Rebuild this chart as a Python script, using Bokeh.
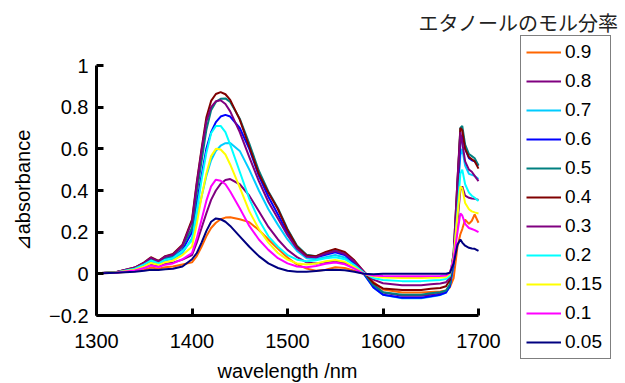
from bokeh.plotting import figure
from bokeh.models import Range1d, FixedTicker, Legend, LegendItem, Label
from bokeh.embed import file_html
from bokeh.resources import INLINE

# ---------------- data ----------------
wavelength = [1300, 1320, 1340, 1350, 1357, 1365, 1372, 1380, 1390,
              1400, 1405, 1410, 1415, 1420, 1425, 1430, 1435, 1440,
              1450, 1460, 1470, 1480, 1490, 1500, 1510, 1520, 1530, 1540, 1550, 1560, 1570, 1580, 1590, 1600,
              1620, 1640, 1650, 1660,
              1666, 1670, 1674, 1678, 1681, 1683, 1686, 1690, 1693, 1696, 1700]

mole_fractions = ["0.9", "0.8", "0.7", "0.6", "0.5", "0.4", "0.3", "0.2", "0.15", "0.1", "0.05"]

x_09 = [0.002, 0.005, 0.012, 0.02, 0.03, 0.025, 0.032, 0.035, 0.045,
        0.055, 0.085, 0.13, 0.18, 0.22, 0.245, 0.262, 0.27, 0.272,
        0.262, 0.248, 0.21, 0.165, 0.12, 0.078, 0.045, 0.025, 0.015, 0.02, 0.032, 0.028, 0.015, 0.0, -0.04, -0.075,
        -0.09, -0.09, -0.087, -0.085,
        -0.08, -0.065, -0.02, 0.13, 0.19, 0.215, 0.26, 0.24, 0.255, 0.285, 0.245]
x_08 = [0.003, 0.006, 0.018, 0.03, 0.044, 0.036, 0.048, 0.054, 0.068,
        0.09, 0.15, 0.22, 0.29, 0.355, 0.4, 0.432, 0.45, 0.455,
        0.43, 0.375, 0.3, 0.225, 0.165, 0.115, 0.08, 0.055, 0.05, 0.055, 0.06, 0.052, 0.03, 0.0, -0.05, -0.09,
        -0.105, -0.105, -0.1, -0.095,
        -0.085, -0.06, 0.04, 0.25, 0.4, 0.42, 0.375, 0.365, 0.362, 0.36, 0.355]
x_07 = [0.003, 0.007, 0.023, 0.04, 0.058, 0.046, 0.064, 0.072, 0.1,
        0.17, 0.27, 0.37, 0.47, 0.545, 0.59, 0.615, 0.627, 0.628,
        0.59, 0.5, 0.4, 0.31, 0.235, 0.165, 0.11, 0.075, 0.07, 0.08, 0.09, 0.078, 0.045, 0.0, -0.065, -0.1,
        -0.117, -0.117, -0.11, -0.102,
        -0.09, -0.06, 0.05, 0.35, 0.57, 0.6, 0.52, 0.48, 0.475, 0.47, 0.455]
x_06 = [0.003, 0.007, 0.025, 0.045, 0.066, 0.052, 0.072, 0.08, 0.115,
        0.2, 0.34, 0.47, 0.6, 0.68, 0.728, 0.755, 0.763, 0.755,
        0.7, 0.6, 0.47, 0.37, 0.285, 0.195, 0.128, 0.085, 0.08, 0.092, 0.103, 0.09, 0.052, 0.0, -0.065, -0.1,
        -0.115, -0.115, -0.108, -0.1,
        -0.09, -0.06, 0.06, 0.38, 0.62, 0.66, 0.6, 0.555, 0.545, 0.54, 0.52]
x_05 = [0.003, 0.008, 0.028, 0.05, 0.072, 0.058, 0.078, 0.088, 0.13,
        0.22, 0.39, 0.54, 0.69, 0.785, 0.825, 0.84, 0.842, 0.825,
        0.745, 0.625, 0.495, 0.395, 0.315, 0.215, 0.135, 0.092, 0.085, 0.1, 0.112, 0.1, 0.06, 0.005, -0.055, -0.088,
        -0.1, -0.1, -0.093, -0.088,
        -0.08, -0.05, 0.08, 0.42, 0.7, 0.71, 0.62, 0.575, 0.565, 0.555, 0.52]
x_04 = [0.003, 0.008, 0.03, 0.055, 0.08, 0.062, 0.085, 0.095, 0.14,
        0.26, 0.44, 0.6, 0.75, 0.83, 0.863, 0.872, 0.862, 0.835,
        0.74, 0.61, 0.48, 0.39, 0.31, 0.21, 0.13, 0.088, 0.085, 0.105, 0.12, 0.105, 0.065, 0.01, -0.045, -0.07,
        -0.078, -0.078, -0.072, -0.068,
        -0.06, -0.03, 0.1, 0.45, 0.7, 0.69, 0.6, 0.56, 0.55, 0.54, 0.505]
x_03 = [0.003, 0.008, 0.03, 0.053, 0.077, 0.06, 0.083, 0.092, 0.135,
        0.25, 0.43, 0.59, 0.73, 0.8, 0.828, 0.833, 0.815, 0.78,
        0.68, 0.56, 0.445, 0.345, 0.265, 0.185, 0.12, 0.082, 0.08, 0.098, 0.11, 0.095, 0.06, 0.01, -0.028, -0.045,
        -0.055, -0.055, -0.05, -0.046,
        -0.04, -0.02, 0.1, 0.45, 0.68, 0.63, 0.54, 0.5, 0.49, 0.47, 0.445]
x_02 = [0.003, 0.007, 0.025, 0.045, 0.064, 0.05, 0.068, 0.076, 0.11,
        0.16, 0.3, 0.45, 0.58, 0.675, 0.71, 0.71, 0.68, 0.62,
        0.49, 0.36, 0.26, 0.18, 0.13, 0.09, 0.068, 0.06, 0.065, 0.075, 0.08, 0.07, 0.042, 0.005, -0.02, -0.03,
        -0.035, -0.035, -0.032, -0.03,
        -0.025, -0.01, 0.08, 0.3, 0.48, 0.5, 0.43, 0.39, 0.375, 0.365, 0.35]
x_015 = [0.003, 0.006, 0.02, 0.036, 0.052, 0.042, 0.056, 0.063, 0.09,
         0.13, 0.24, 0.37, 0.48, 0.565, 0.6, 0.597, 0.573, 0.525,
         0.415, 0.3, 0.215, 0.15, 0.1, 0.068, 0.05, 0.045, 0.05, 0.06, 0.066, 0.058, 0.032, 0.0, -0.012, -0.018,
         -0.02, -0.02, -0.019, -0.018,
         -0.015, 0.0, 0.08, 0.28, 0.42, 0.41, 0.34, 0.31, 0.3, 0.295, 0.29]
x_01 = [0.003, 0.005, 0.016, 0.028, 0.04, 0.033, 0.044, 0.05, 0.07,
        0.1, 0.17, 0.26, 0.35, 0.42, 0.452, 0.447, 0.43, 0.395,
        0.315, 0.23, 0.165, 0.115, 0.075, 0.05, 0.035, 0.032, 0.038, 0.048, 0.054, 0.046, 0.025, 0.0, -0.008, -0.01,
        -0.012, -0.012, -0.011, -0.01,
        -0.008, 0.005, 0.07, 0.2, 0.29, 0.28, 0.24, 0.22, 0.215, 0.21, 0.2]
x_005 = [0.002, 0.005, 0.01, 0.015, 0.02, 0.018, 0.022, 0.024, 0.035,
         0.07, 0.1, 0.15, 0.205, 0.25, 0.266, 0.262, 0.25, 0.23,
         0.18, 0.13, 0.085, 0.05, 0.028, 0.015, 0.01, 0.01, 0.014, 0.018, 0.02, 0.017, 0.01, 0.0, -0.002, 0.0,
         0.0, 0.0, 0.0, 0.0,
         0.0, 0.005, 0.05, 0.14, 0.165, 0.15, 0.135, 0.125, 0.122, 0.12, 0.11]

series = [x_09, x_08, x_07, x_06, x_05, x_04, x_03, x_02, x_015, x_01, x_005]
colors = ["#FF6600", "#800080", "#00CCFF", "#0000FF", "#008080", "#800000",
          "#800080", "#00FFFF", "#FFFF00", "#FF00FF", "#000080"]

x_ticks = [1300, 1400, 1500, 1600, 1700]
y_ticks = [-0.2, 0, 0.2, 0.4, 0.6, 0.8, 1]
y_tick_labels = ["\u22120.2", "0", "0.2", "0.4", "0.6", "0.8", "1"]

x_title = "wavelength /nm"
y_title = "\u22bfabsorbance"
legend_title = "エタノールのモル分率"

# ---------------- layout (pixels) ----------------
W, H = 625, 383
PX_L, PX_R, PX_T, PX_B = 96, 478, 65, 315      # where the data box sits
X0, X1 = x_ticks[0], x_ticks[-1]
Y0, Y1 = y_ticks[0], y_ticks[-1]
sx = (PX_R - PX_L) / (X1 - X0)
sy = (PX_B - PX_T) / (Y1 - Y0)
x_range = Range1d(X0 - PX_L / sx, X1 + (W - PX_R) / sx)
y_range = Range1d(Y0 - (H - PX_B) / sy, Y1 + PX_T / sy)

FONT = "Liberation Sans"

p = figure(width=W, height=H, output_backend="svg", toolbar_location=None,
           x_range=x_range, y_range=y_range,
           min_border_left=0, min_border_right=0, min_border_top=0, min_border_bottom=0)
p.background_fill_color = "white"
p.border_fill_color = "white"
p.outline_line_color = None
p.xgrid.visible = False
p.ygrid.visible = False

for ax in (p.xaxis[0], p.yaxis[0]):
    ax.axis_line_width = 3
    ax.axis_line_color = "black"
    ax.major_tick_line_width = 3
    ax.major_tick_line_color = "black"
    ax.major_tick_in = 7
    ax.major_tick_out = 0
    ax.minor_tick_line_color = None
    ax.major_label_text_font = FONT
    ax.major_label_text_font_size = "20px"
    ax.major_label_text_color = "black"
    ax.axis_label_text_font = FONT
    ax.axis_label_text_font_size = "20px"
    ax.axis_label_text_font_style = "normal"
    ax.axis_label_text_color = "black"

p.xaxis.fixed_location = Y0
p.xaxis.bounds = (X0, X1)
p.xaxis.ticker = FixedTicker(ticks=x_ticks)
p.xaxis.major_label_standoff = 18
p.xaxis.axis_label = x_title
p.xaxis.axis_label_standoff = 9

p.yaxis.fixed_location = X0
p.yaxis.bounds = (Y0, Y1)
p.yaxis.ticker = FixedTicker(ticks=y_ticks)
p.yaxis.major_label_overrides = {t: l for t, l in zip(y_ticks, y_tick_labels)}
p.yaxis.major_label_standoff = 8
p.yaxis.axis_label = y_title
p.yaxis.axis_label_standoff = 12

items = []
for lab, ys, c in zip(mole_fractions, series, colors):
    r = p.line(wavelength, ys, line_color=c, line_width=2)
    items.append(LegendItem(label=lab, renderers=[r]))

legend = Legend(items=items, location=(520, 24), orientation="vertical",
                glyph_width=35, glyph_height=20, label_height=20, label_width=40,
                label_standoff=4, spacing=7, padding=5, margin=0,
                label_text_font=FONT, label_text_font_size="19px", label_text_color="black",
                border_line_color="black", border_line_width=1,
                background_fill_color="white", background_fill_alpha=1.0)
p.add_layout(legend, "center")

p.add_layout(Label(x=518, y=H - 22, x_units="screen", y_units="screen", text=legend_title,
                   text_font="Noto Sans CJK JP", text_font_size="20px", text_color="#222222",
                   text_align="center", text_baseline="middle"))

open("out.html", "w").write(file_html(p, INLINE))
